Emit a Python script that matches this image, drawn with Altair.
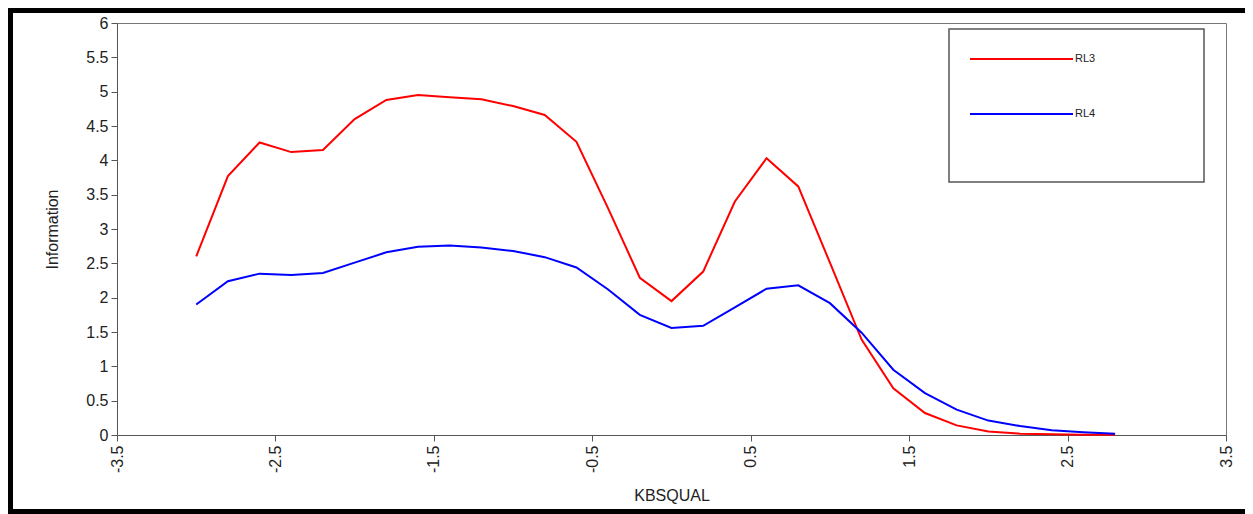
import altair as alt
import pandas as pd

# ---- data ----
theta = [-3.0, -2.8, -2.6, -2.4, -2.2, -2.0, -1.8, -1.6, -1.4, -1.2,
         -1.0, -0.8, -0.6, -0.4, -0.2, 0.0, 0.2, 0.4, 0.6, 0.8,
         1.0, 1.2, 1.4, 1.6, 1.8, 2.0, 2.2, 2.4, 2.6, 2.8]
rl3 = [2.60, 3.77, 4.26, 4.12, 4.15, 4.60, 4.88, 4.95, 4.92, 4.89,
       4.79, 4.66, 4.27, 3.30, 2.29, 1.95, 2.38, 3.40, 4.03, 3.62,
       2.51, 1.39, 0.68, 0.32, 0.14, 0.05, 0.02, 0.01, 0.005, 0.002]
rl4 = [1.90, 2.24, 2.35, 2.33, 2.36, 2.51, 2.66, 2.74, 2.76, 2.73,
       2.68, 2.59, 2.44, 2.12, 1.75, 1.56, 1.59, 1.86, 2.13, 2.18,
       1.92, 1.49, 0.95, 0.61, 0.37, 0.21, 0.13, 0.07, 0.04, 0.02]
series_names = ["RL3", "RL4"]
series_colors = ["#ff0000", "#0000ff"]
x_ticks = [-3.5, -2.5, -1.5, -0.5, 0.5, 1.5, 2.5, 3.5]
y_ticks = [0, 0.5, 1, 1.5, 2, 2.5, 3, 3.5, 4, 4.5, 5, 5.5, 6]

df = pd.concat([
    pd.DataFrame({"theta": theta, "info": rl3, "series": "RL3"}),
    pd.DataFrame({"theta": theta, "info": rl4, "series": "RL4"}),
])
legend_df = pd.DataFrame({"series": series_names, "row": [0, 1]})
one = pd.DataFrame({"a": [0]})

FONT = "Liberation Sans"
color_scale = alt.Scale(domain=series_names, range=series_colors)

W, H = 1109, 412
PAD = {"left": 109, "top": 15, "right": 19, "bottom": 79}
RIGHT = W + PAD["right"]
BOTTOM = H + PAD["bottom"]

lines = alt.Chart(df).mark_line(strokeWidth=2).encode(
    x=alt.X("theta:Q",
            scale=alt.Scale(domain=[-3.5, 3.5], nice=False, zero=False),
            axis=alt.Axis(values=x_ticks, labelExpr="'' + datum.value",
                          labelAngle=270, labelPadding=4, title="KBSQUAL",
                          titlePadding=15)),
    y=alt.Y("info:Q",
            scale=alt.Scale(domain=[0, 6], nice=False),
            axis=alt.Axis(values=y_ticks, labelExpr="'' + datum.value",
                          labelPadding=3, title="Information",
                          titlePadding=25)),
    color=alt.Color("series:N", scale=color_scale, legend=None),
)

leg_box = alt.Chart(one).mark_rect(fill="white", stroke="#555", strokeWidth=1.5).encode(
    x=alt.value(832), x2=alt.value(1087), y=alt.value(6), y2=alt.value(159)
)
row_y = alt.Y("row:Q", scale=alt.Scale(domain=[0, 1], range=[36, 91]), axis=None)
leg_rules = alt.Chart(legend_df).mark_rule(strokeWidth=2).encode(
    x=alt.value(853), x2=alt.value(956), y=row_y,
    color=alt.Color("series:N", scale=color_scale, legend=None),
)
leg_text = alt.Chart(legend_df).mark_text(
    align="left", baseline="middle", fontSize=11, font=FONT, color="#222"
).encode(x=alt.value(958), y=row_y, text="series:N")

# outer black frame: top, left and bottom edges, kept inside the drawing
frame_top = alt.Chart(one).mark_rule(stroke="black", strokeWidth=10).encode(
    x=alt.value(-PAD["left"]), x2=alt.value(RIGHT), y=alt.value(-PAD["top"])
)
frame_left = alt.Chart(one).mark_rule(stroke="black", strokeWidth=10).encode(
    x=alt.value(-PAD["left"]), y=alt.value(-PAD["top"]), y2=alt.value(BOTTOM)
)
frame_bottom = alt.Chart(one).mark_rule(stroke="black", strokeWidth=10).encode(
    x=alt.value(-PAD["left"]), x2=alt.value(RIGHT), y=alt.value(BOTTOM)
)

chart = alt.layer(
    lines, leg_box, leg_rules, leg_text, frame_top, frame_left, frame_bottom
).resolve_scale(
    y="independent"
).properties(
    width=W, height=H,
    autosize=alt.AutoSizeParams(type="none"),
    padding=PAD,
    background="white",
).configure_view(
    stroke="#777", strokeWidth=1
).configure_axis(
    grid=False, domainColor="#555", tickColor="#555", tickSize=6,
    labelColor="#222", titleColor="#222", labelFont=FONT, titleFont=FONT,
    labelFontSize=16, titleFontSize=16, titleFontWeight="normal",
)

chart.save("out.html", embed_options={"renderer": "svg", "actions": False})
